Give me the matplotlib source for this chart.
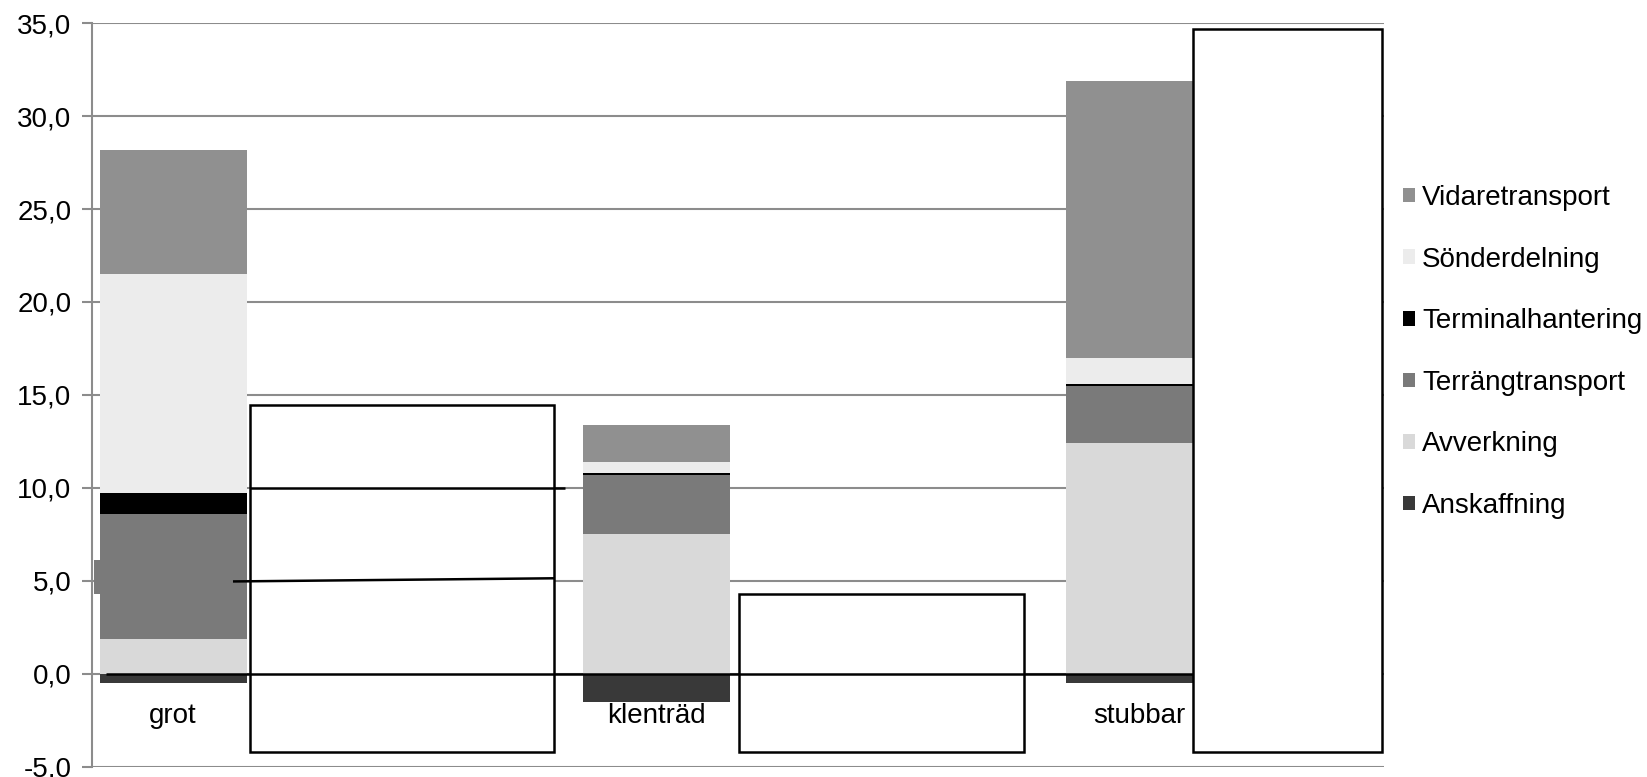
import matplotlib.pyplot as plt
from matplotlib.patches import Rectangle
import numpy as np

plt.rcParams['font.family'] = ['Liberation Sans', 'DejaVu Sans']

categories = ['grot', 'klenträd', 'stubbar']

# cost components per assortment (bottom to top in the stack)
anskaffning = [-0.5, -1.5, -0.5]
avverkning = [1.9, 7.5, 12.4]
terrangtransport = [6.7, 3.2, 3.1]
terminalhantering = [1.1, 0.1, 0.1]
sonderdelning = [11.8, 0.6, 1.4]
vidaretransport = [6.7, 2.0, 14.9]

series = [
    ('Anskaffning', anskaffning, '#393939'),
    ('Avverkning', avverkning, '#d9d9d9'),
    ('Terrängtransport', terrangtransport, '#7a7a7a'),
    ('Terminalhantering', terminalhantering, '#000000'),
    ('Sönderdelning', sonderdelning, '#ececec'),
    ('Vidaretransport', vidaretransport, '#909090'),
]

# empty framed boxes drawn over the chart: (x0, x1, y0, y1) in data units
boxes = [
    (0.159, 0.789, -4.18, 14.46),
    (1.172, 1.761, -4.18, 4.29),
    (2.111, 2.503, -4.18, 34.7),
]
# loose connector lines: (x0, x1, y0, y1)
lines = [
    (0.159, 0.811, 10.0, 10.0),
    (0.124, 0.789, 4.97, 5.14),
    (-0.139, 2.111, 0.0, 0.0),
]
stray_patch = (-0.163, -0.150, 4.3, 6.1)

fs = 20

fig = plt.figure(figsize=(16.47, 7.77), dpi=100)
ax = fig.add_axes([0.0561, 0.0131, 0.8405 - 0.0561, 0.9703 - 0.0131])

x = np.arange(len(categories))
width = 0.304
pos_base = np.zeros(len(categories))
handles = {}
for name, vals, color in series:
    vals = np.array(vals)
    if name == 'Anskaffning':
        b = ax.bar(x, vals, width, color=color, zorder=2)
    else:
        b = ax.bar(x, vals, width, bottom=pos_base, color=color, zorder=2)
        pos_base += vals
    handles[name] = b

sx0, sx1, sy0, sy1 = stray_patch
ax.add_patch(Rectangle((sx0, sy0), sx1 - sx0, sy1 - sy0, facecolor='#7a7a7a',
                       edgecolor='none', zorder=2))

for x0, x1, y0, y1 in boxes:
    ax.add_patch(Rectangle((x0, y0), x1 - x0, y1 - y0, facecolor='white',
                           edgecolor='black', linewidth=1.8, zorder=3))

for x0, x1, y0, y1 in lines:
    ax.plot([x0, x1], [y0, y1], color='black', linewidth=1.8, zorder=4,
            solid_capstyle='butt')

for xi, cat in zip(x, categories):
    ax.text(xi, -2.26, cat, ha='center', va='center', fontsize=fs, zorder=5)

ax.set_xlim(-0.167, 2.507)
ax.set_ylim(-5, 35)
ax.set_yticks(np.arange(-5, 36, 5))
ax.set_yticklabels([f'{v:.1f}'.replace('.', ',') for v in np.arange(-5, 36, 5)])
ax.set_xticks([])
ax.tick_params(axis='y', labelsize=fs, length=7, width=1.5, color='#8c8c8c', pad=8)
ax.yaxis.grid(True, color='#8c8c8c', linewidth=1.5)
ax.set_axisbelow(True)
for s in ['top', 'right', 'bottom']:
    ax.spines[s].set_visible(False)
ax.spines['left'].set_color('#8c8c8c')
ax.spines['left'].set_linewidth(1.5)

order = ['Vidaretransport', 'Sönderdelning', 'Terminalhantering',
         'Terrängtransport', 'Avverkning', 'Anskaffning']
fig.legend([handles[n] for n in order], order, loc='center left',
           bbox_to_anchor=(0.852, 0.547), frameon=False, fontsize=fs,
           handlelength=0.43, handleheight=0.43, handletextpad=0.25,
           labelspacing=1.28, borderpad=0, borderaxespad=0)

fig.savefig('out.png', dpi=100)
